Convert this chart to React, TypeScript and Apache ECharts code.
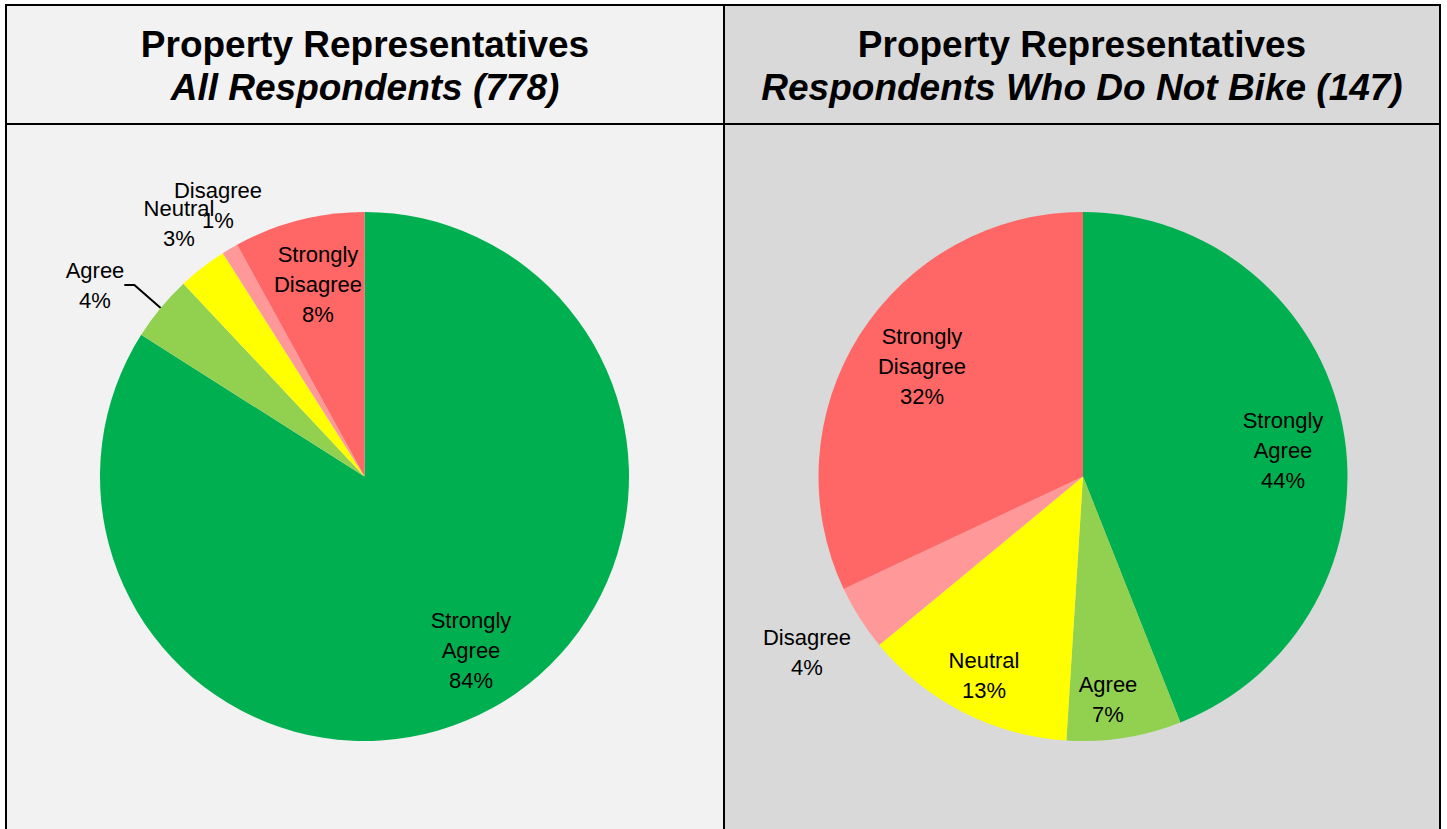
import React, { useEffect, useRef } from "react";
import * as echarts from "echarts";

// ---- Data ----
const categories = ["Strongly Agree", "Agree", "Neutral", "Disagree", "Strongly Disagree"];
const labelNames = ["Strongly\nAgree", "Agree", "Neutral", "Disagree", "Strongly\nDisagree"];
const allRespondentsPct = [84, 4, 3, 1, 8];
const nonBikersPct = [44, 7, 13, 4, 32];
const titleLine1 = ["Property Representatives", "Property Representatives"];
const titleLine2 = ["All Respondents (778)", "Respondents Who Do Not Bike (147)"];

// ---- Styles / layout ----
const sliceColors = ["#00B050", "#92D050", "#FFFF00", "#FF9999", "#FF6666"];
const W = 1447;
const H = 829;
const FONT = '"Liberation Sans", Arial, Helvetica, sans-serif';
const LEFT_CENTER = [364.5, 476.5];
const RIGHT_CENTER = [1083, 476.5];
const RADIUS = 264.5;
const LEFT_LABEL_POS = [[471, 650], [95, 285], [179, 223], [218, 205], [318, 284]];
const RIGHT_LABEL_POS = [[1283, 450], [1108, 699], [984, 675], [807, 652], [922, 366]];

function pieSeries(values: number[], center: number[], labelPos: number[][], leaderIdx: number) {
  return {
    type: "pie",
    center,
    radius: RADIUS,
    startAngle: 90,
    clockwise: true,
    silent: true,
    avoidLabelOverlap: false,
    itemStyle: { borderWidth: 0 },
    data: categories.map((c, i) => ({
      name: c,
      value: values[i],
      itemStyle: { color: sliceColors[i] },
      labelLine: { show: i === leaderIdx },
    })),
    label: {
      show: true,
      position: "outside",
      formatter: (p: any) => `${labelNames[p.dataIndex]}\n${p.value}%`,
      color: "#000",
      fontSize: 22,
      fontFamily: FONT,
      lineHeight: 30,
      align: "center",
    },
    labelLine: {
      show: false,
      length: 8,
      length2: 10,
      smooth: false,
      lineStyle: { color: "#000", width: 2 },
    },
    labelLayout: (params: any) => {
      const [x, y] = labelPos[params.dataIndex];
      return { x, y, align: "center", verticalAlign: "middle" };
    },
  };
}

export default function App() {
  const ref = useRef<HTMLDivElement>(null);
  useEffect(() => {
    if (!ref.current) return;
    const chart = echarts.init(ref.current, undefined, { renderer: "svg" });
    const lineStyle = { stroke: "#000", lineWidth: 2 };
    const panels = [
      { x: 6, w: 718, fill: "#F2F2F2", cx: 365 },
      { x: 724, w: 716, fill: "#D9D9D9", cx: 1082 },
    ];
    const graphics: any[] = [];
    panels.forEach((p, i) => {
      graphics.push({
        type: "rect",
        z: -10,
        shape: { x: p.x, y: 5, width: p.w, height: H },
        style: { fill: p.fill },
        silent: true,
      });
      graphics.push({
        type: "text",
        z: 100,
        x: p.cx,
        y: 44,
        style: {
          text: titleLine1[i],
          font: `bold 37px ${FONT}`,
          fill: "#000",
          align: "center",
          verticalAlign: "middle",
        },
      });
      graphics.push({
        type: "text",
        z: 100,
        x: p.cx,
        y: 87,
        style: {
          text: titleLine2[i],
          font: `italic bold 37px ${FONT}`,
          fill: "#000",
          align: "center",
          verticalAlign: "middle",
        },
      });
    });
    // borders
    const lines = [
      [6, 5, 1440, 5],
      [6, 4, 6, H],
      [724, 4, 724, H],
      [1440, 4, 1440, H],
      [6, 124, 1440, 124],
    ];
    lines.forEach(([x1, y1, x2, y2]) =>
      graphics.push({ type: "line", z: 100, shape: { x1, y1, x2, y2 }, style: lineStyle, silent: true })
    );

    chart.setOption({
      animation: false,
      backgroundColor: "#FFFFFF",
      graphic: { elements: graphics },
      series: [
        pieSeries(allRespondentsPct, LEFT_CENTER, LEFT_LABEL_POS, 1),
        pieSeries(nonBikersPct, RIGHT_CENTER, RIGHT_LABEL_POS, -1),
      ],
    });
    return () => chart.dispose();
  }, []);
  return (
    <div
      ref={ref}
      style={{ position: "fixed", left: 0, top: 0, width: W, height: H }}
    />
  );
}
